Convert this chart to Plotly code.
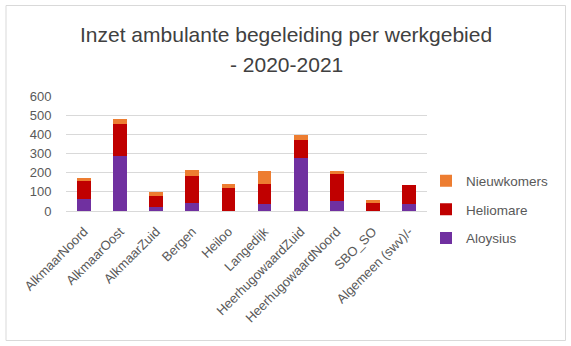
import plotly.graph_objects as go

categories = ["AlkmaarNoord", "AlkmaarOost", "AlkmaarZuid", "Bergen", "Heiloo",
              "Langedijk", "HeerhugowaardZuid", "HeerhugowaardNoord", "SBO_SO", "Algemeen (swv)/-"]
aloysius = [64, 288, 21, 42, 0, 38, 276, 52, 0, 38]
heliomare = [94, 168, 59, 143, 120, 104, 95, 140, 42, 97]
nieuwkomers = [14, 22, 17, 28, 20, 69, 26, 19, 13, 0]
y_ticks = [0, 100, 200, 300, 400, 500, 600]

FONT = "Liberation Sans"
GRAY = "#595959"

fig = go.Figure()
series = [("Aloysius", aloysius, "#7030A0", 3),
          ("Heliomare", heliomare, "#C00000", 2),
          ("Nieuwkomers", nieuwkomers, "#ED7D31", 1)]
for name, vals, col, rank in series:
    fig.add_trace(go.Bar(x=categories, y=vals, name=name, legendgroup=name, legendrank=rank,
                         marker=dict(color=col, line=dict(width=0))))

W, H = 571, 346
L, R, T, B = 66, 427, 96, 211

def px_x(p):
    return (p - L) / (R - L)

def px_y(p):
    return (B - p) / (B - T)

fig.update_layout(
    width=W, height=H,
    margin=dict(l=L, r=W - R, t=T, b=H - B),
    barmode="stack", bargap=0.62,
    paper_bgcolor="white", plot_bgcolor="white",
    font=dict(family=FONT, color=GRAY, size=13),
    xaxis=dict(tickangle=-45, tickfont=dict(size=13, color=GRAY), showgrid=False,
               showline=True, linecolor="#d9d9d9", linewidth=1,
               ticks="outside", ticklen=7, tickcolor="rgba(0,0,0,0)"),
    yaxis=dict(range=[0, 600], tickvals=y_ticks, tickfont=dict(size=13, color=GRAY),
               showgrid=True, gridcolor="#d9d9d9", gridwidth=1, zeroline=False,
               showline=False, ticks="outside", ticklen=11, tickcolor="rgba(0,0,0,0)"),
    legend=dict(x=px_x(426), y=px_y(209.5), xanchor="left", yanchor="middle",
                traceorder="grouped", tracegroupgap=8,
                font=dict(size=13.5, color=GRAY), bgcolor="rgba(0,0,0,0)"),
    showlegend=True,
)

fig.add_annotation(text="Inzet ambulante begeleiding per werkgebied", xref="paper", yref="paper",
                   x=px_x(286), y=px_y(34), showarrow=False, xanchor="center", yanchor="middle",
                   font=dict(size=21, color="#404040", family=FONT))
fig.add_annotation(text="- 2020-2021", xref="paper", yref="paper",
                   x=px_x(286), y=px_y(64), showarrow=False, xanchor="center", yanchor="middle",
                   font=dict(size=21, color="#404040", family=FONT))

fig.add_shape(type="rect", xref="paper", yref="paper",
              x0=px_x(6), x1=px_x(565.5), y0=px_y(340.5), y1=px_y(5.5),
              line=dict(color="#d9d9d9", width=1), fillcolor="rgba(0,0,0,0)", layer="below")

fig.write_html("out.html")
